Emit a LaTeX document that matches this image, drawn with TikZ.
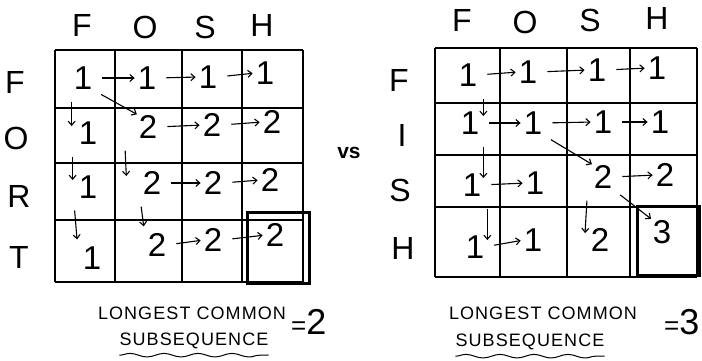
\documentclass[tikz,border=0pt]{standalone}
\usepackage{fontspec}
\setmainfont{Liberation Sans}
\usetikzlibrary{arrows.meta,decorations.pathmorphing}

\begin{document}
\begin{tikzpicture}[
			x=1pt, y=-1pt,
			grid line/.style={draw, line width=1.3pt},
			answer box/.style={draw, line width=3pt},
			head/.style={font=\fontsize{32}{32}\selectfont, inner sep=0pt},
			val/.style={font=\fontsize{33}{33}\selectfont, inner sep=0pt},
			arr/.style={-{Straight Barb[length=4pt,width=7pt]}, line width=1.1pt},
			across/.style={arr, shorten <=10pt, shorten >=3pt},
			down/.style={arr, shorten <=12pt, shorten >=7pt},
			diag/.style={arr, shorten <=10pt, shorten >=2pt},
			caption/.style={font=\fontsize{18}{18}\selectfont\addfontfeature{LetterSpace=6}, inner sep=0pt},
			total/.style={inner sep=0pt, anchor=west},
			wavy/.style={draw, line width=1pt, decorate, decoration={snake, segment length=34pt, amplitude=1.8pt}}
			]
			
			\useasboundingbox (0,0) rectangle (702,360);
			
			% left table: FOSH vs FORT
			\foreach \x in {55,115,182,242,303}
				\draw[grid line] (\x,50) -- (\x,282);
			\foreach \y in {50,108,163,220,282}
				\draw[grid line] (55,\y) -- (303,\y);
			\draw[answer box] (247,212) rectangle (309,283);
			
			\node[head] (lcF) at (82,25) {F};
			\node[head] (lcO) at (145,27) {O};
			\node[head] (lcS) at (205,27) {S};
			\node[head] (lcH) at (262,25) {H};
			\node[head] (lrF) at (15,82) {F};
			\node[head] (lrO) at (16,138) {O};
			\node[head] (lrR) at (19,196) {R};
			\node[head] (lrT) at (19,257) {T};
			
			\node[val] (l11) at (83,78) {1};
			\node[val] (l12) at (147,78) {1};
			\node[val] (l13) at (208,77) {1};
			\node[val] (l14) at (265,73) {1};
			\node[val] (l21) at (88,133) {1};
			\node[val] (l22) at (148,127) {2};
			\node[val] (l23) at (212,125) {2};
			\node[val] (l24) at (272,122) {2};
			\node[val] (l31) at (88,187) {1};
			\node[val] (l32) at (152,183) {2};
			\node[val] (l33) at (213,183) {2};
			\node[val] (l34) at (270,180) {2};
			\node[val] (l41) at (92,258) {1};
			\node[val] (l42) at (157,245) {2};
			\node[val] (l43) at (213,240) {2};
			\node[val] (l44) at (275,235) {2};
			
			\draw[across] (l11.east) -- (l12.west);
			\draw[across] (l12.east) -- (l13.west);
			\draw[across] (l13.east) -- (l14.west);
			\draw[across] (l22.east) -- (l23.west);
			\draw[across] (l23.east) -- (l24.west);
			\draw[across] (l32.east) -- (l33.west);
			\draw[across] (l33.east) -- (l34.west);
			\draw[across] (l42.east) -- (l43.west);
			\draw[across] (l43.east) -- (l44.west);
			\draw[diag] (l11.south east) -- (l22.north west);
			\draw[down] ([xshift=-2pt]l11.south west) -- ([xshift=-7pt]l21.west);
			\draw[down] ([xshift=-6pt]l21.south west) -- ([xshift=-6pt]l31.west);
			\draw[down] ([xshift=-5pt]l31.south west) -- ([xshift=-5pt]l41.north west);
			\draw[down] ([xshift=-14pt]l22.south west) -- ([xshift=-16pt]l32.west);
			\draw[down] ([xshift=-3pt]l32.south west) -- ([xshift=-3pt]l42.north west);
			
			\node (vs) at (349,153) {\fontsize{21}{21}\selectfont\bfseries vs};
			
			% right table: FOSH vs FISH
			\foreach \x in {435,500,567,630,697}
				\draw[grid line] (\x,48) -- (\x,277);
			\foreach \y in {48,103,155,207,277}
				\draw[grid line] (435,\y) -- (697,\y);
			\draw[answer box] (637,206) rectangle (699.5,275);
			
			\node[head] (rcF) at (462,20) {F};
			\node[head] (rcO) at (525,22) {O};
			\node[head] (rcS) at (590,20) {S};
			\node[head] (rcH) at (657,18) {H};
			\node[head] (rrF) at (399,80) {F};
			\node[head] (rrI) at (402,135) {I};
			\node[head] (rrS) at (400,190) {S};
			\node[head] (rrH) at (403,248) {H};
			
			\node[val] (r11) at (468,75) {1};
			\node[val] (r12) at (528,72) {1};
			\node[val] (r13) at (597,70) {1};
			\node[val] (r14) at (657,68) {1};
			\node[val] (r21) at (470,123) {1};
			\node[val] (r22) at (533,123) {1};
			\node[val] (r23) at (603,122) {1};
			\node[val] (r24) at (660,122) {1};
			\node[val] (r31) at (472,185) {1};
			\node[val] (r32) at (535,183) {1};
			\node[val] (r33) at (603,177) {2};
			\node[val] (r34) at (665,175) {2};
			\node[val] (r41) at (475,247) {1};
			\node[val] (r42) at (533,240) {1};
			\node[val] (r43) at (600,240) {2};
			\node[val] (r44) at (662,232) {3};
			
			\draw[across] (r11.east) -- (r12.west);
			\draw[across] (r12.east) -- (r13.west);
			\draw[across] (r13.east) -- (r14.west);
			\draw[across] (r21.east) -- (r22.west);
			\draw[across] (r22.east) -- (r23.west);
			\draw[across] (r23.east) -- (r24.west);
			\draw[across] (r31.east) -- (r32.west);
			\draw[across] (r33.east) -- (r34.west);
			\draw[across] (r41.east) -- (r42.west);
			\draw[diag] (r22.south east) -- (r33.north west);
			\draw[diag] (r33.south east) -- (r44.north west);
			\draw[down] ([xshift=6pt]r11.south east) -- ([xshift=4pt]r21.east);
			\draw[down] ([xshift=4pt]r21.south east) -- ([xshift=2pt]r31.east);
			\draw[down] ([xshift=6pt]r31.south east) -- ([xshift=3pt]r41.east);
			\draw[down] ([xshift=-6pt]r33.south west) -- ([xshift=-6pt]r43.west);
			
			% results
			\node[caption] (lLong) at (192,313) {LONGEST COMMON};
			\node[caption] (lSub) at (194,341) {SUBSEQUENCE};
			\node[total] (lEq) at (291,322) {\fontsize{26}{26}\selectfont =\fontsize{36}{36}\selectfont 2};
			\draw[wavy] ([yshift=-6pt]lSub.south west) -- ([yshift=-6pt]lSub.south east);
			
			\node[caption] (rLong) at (543,313) {LONGEST COMMON};
			\node[caption] (rSub) at (530,342) {SUBSEQUENCE};
			\node[total] (rEq) at (664,322) {\fontsize{26}{26}\selectfont =\fontsize{36}{36}\selectfont 3};
			\draw[wavy] ([yshift=-6pt]rSub.south west) -- ([yshift=-6pt]rSub.south east);
		\end{tikzpicture}
\end{document}
